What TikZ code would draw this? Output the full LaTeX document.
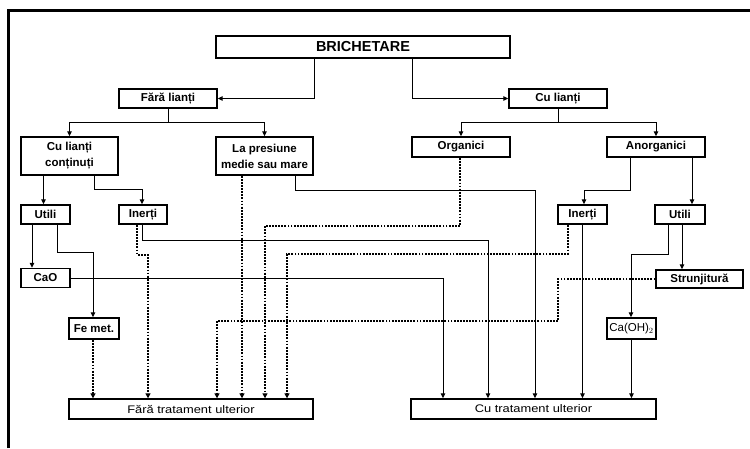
\documentclass[tikz,border=0pt]{standalone}
\usepackage{fontspec}
\setmainfont{Liberation Sans}
\newfontfamily\widefont[FakeStretch=1.17]{Liberation Sans}
\usetikzlibrary{arrows.meta}

\begin{document}
\begin{tikzpicture}[x=1pt,y=-1pt,
    box/.style={draw,line width=1.4pt,inner sep=0pt,align=center,
      font=\bfseries\fontsize{11.5}{16}\selectfont},
    arr/.style={line width=1pt,-{Triangle[length=5pt,width=4.5pt]}},
    dotarr/.style={line width=1.8pt,dash pattern=on 1.8pt off 1.3pt,
      -{Triangle[length=5pt,width=5pt]}}]
    \useasboundingbox (0,0) rectangle (750,448);
    \draw[line width=3pt] (8,448) -- (8,10) -- (750,10);
    % top levels
    \node[box,minimum width=294pt,minimum height=22pt,
      font=\bfseries\fontsize{14.5}{16}\selectfont] (B) at (363,47) {BRICHETARE};
    \node[box,minimum width=98pt,minimum height=19pt] (FL) at (168,98.5) {Fără lianți};
    \node[box,minimum width=98pt,minimum height=19pt] (CL) at (558,98.5) {Cu lianți};
    \node[box,minimum width=97pt,minimum height=38pt] (CLC) at (69.5,156) {Cu lianți\\conținuți};
    \node[box,minimum width=97pt,minimum height=38pt] (LP) at (264.5,156) {La presiune\\medie sau mare};
    \node[box,minimum width=98pt,minimum height=20pt] (O) at (461,147) {Organici};
    \node[box,minimum width=98pt,minimum height=20pt] (A) at (656,147) {Anorganici};
    % middle
    \node[box,minimum width=49pt,minimum height=19pt] (UL) at (45.5,214.5) {Utili};
    \node[box,minimum width=48pt,minimum height=19pt] (IL) at (143,214.5) {Inerți};
    \node[box,minimum width=49pt,minimum height=19pt] (IR) at (582.5,214.5) {Inerți};
    \node[box,minimum width=50pt,minimum height=19pt] (UR) at (680,214.5) {Utili};
    \node[box,minimum width=49pt,minimum height=19pt] (CaO) at (45.5,278) {CaO};
    \node[box,minimum width=87pt,minimum height=18pt] (St) at (699.5,279) {Strunjitură};
    \node[box,minimum width=50pt,minimum height=21pt] (Fe) at (94,328.5) {Fe met.};
    \node[box,minimum width=49pt,minimum height=21pt,
      font=\fontsize{11.5}{13}\selectfont] (CaOH) at (631.5,328.5) {Ca(OH)$_2$};
    % bottom
    \node[box,minimum width=244pt,minimum height=20pt,
      font=\widefont\fontsize{11}{13}\selectfont] (FT) at (191,409) {Fără tratament ulterior};
    \node[box,minimum width=245pt,minimum height=20pt,
      font=\widefont\fontsize{11}{13}\selectfont] (CT) at (533.5,409) {Cu tratament ulterior};
    % solid links
    \draw[arr] ([xshift=-49pt]B.south) |- (FL.east);
    \draw[arr] ([xshift=49pt]B.south) |- (CL.west);
    \draw[arr] (FL.south) -- ++(0,14) -| (CLC.north);
    \draw[arr] (FL.south) -- ++(0,14) -| (LP.north);
    \draw[arr] (CL.south) -- ++(0,14) -| (O.north);
    \draw[arr] (CL.south) -- ++(0,14) -| (A.north);
    \draw[arr] ([xshift=-26pt]CLC.south) -- ([xshift=-2pt]UL.north);
    \draw[arr] ([xshift=24.5pt]CLC.south) -- ++(0,14) -| ([xshift=-1pt]IL.north);
    \draw[arr] ([xshift=30.5pt]LP.south) -- ++(0,15) -| ([xshift=1.5pt]CT.north);
    \draw[arr] ([xshift=-26pt]A.south) -- ++(0,33) -| ([xshift=1.5pt]IR.north);
    \draw[arr] ([xshift=36pt]A.south) -- ([xshift=12pt]UR.north);
    \draw[arr] ([xshift=-1pt]IL.south) -- ++(0,16) -| ([xshift=-45.5pt]CT.north);
    \draw[arr] ([xshift=-13.5pt]UL.south) -- ([xshift=-13.5pt]CaO.north);
    \draw[arr] ([xshift=11.5pt]UL.south) -- ++(0,28) -| ([xshift=-1pt]Fe.north);
    \draw[arr] (CaO.east) -| ([xshift=-90.5pt]CT.north);
    \draw[arr] (IR.south) -- ([xshift=49pt]CT.north);
    \draw[arr] ([xshift=-12pt]UR.south) -- ++(0,30) -| ([xshift=-0.5pt]CaOH.north);
    \draw[arr] ([xshift=2pt]UR.south) -- ([xshift=-17.5pt]St.north);
    \draw[arr] (CaOH.south) -- ([xshift=98pt]CT.north);
    % dotted links
    \draw[dotarr] ([xshift=-22.5pt]LP.south) -- ([xshift=51pt]FT.north);
    \draw[dotarr] ([xshift=-1pt]O.south) -- ++(0,68) -| ([xshift=74pt]FT.north);
    \draw[dotarr] ([xshift=-6pt]IL.south) -- ++(0,30) -| ([xshift=-43pt]FT.north);
    \draw[dotarr] ([xshift=-1pt]Fe.south) -- ([xshift=-98pt]FT.north);
    \draw[dotarr] ([xshift=-14.5pt]IR.south) -- ++(0,29) -| ([xshift=96pt]FT.north);
    \draw[dotarr] (St.west) -- ++(-97,0) -- ++(0,42) -| ([xshift=26pt]FT.north);
  \end{tikzpicture}
\end{document}
